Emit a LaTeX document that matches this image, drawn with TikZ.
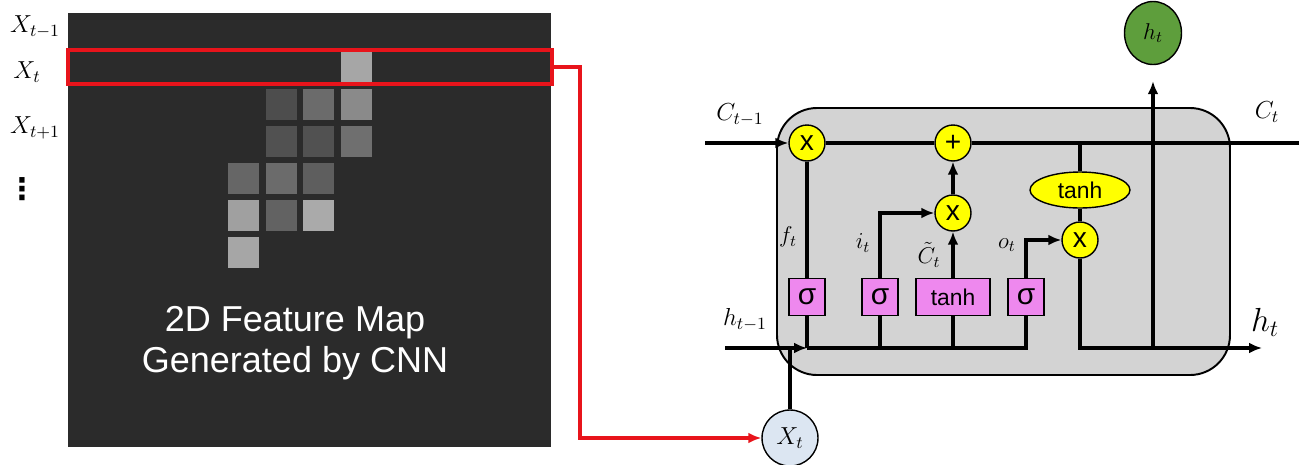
\RequirePackage{fix-cm}
\documentclass[tikz,border=0pt]{standalone}
\usepackage{fontspec}
\setsansfont{Liberation Sans}
\newfontfamily\dotsfont{DejaVu Sans}
\usetikzlibrary{arrows.meta,shapes.geometric,positioning}
\definecolor{mapdark}{HTML}{2B2B2B}
\definecolor{gatepink}{HTML}{EE88EE}
\definecolor{opyellow}{HTML}{FFFF00}
\definecolor{cellgray}{HTML}{D3D3D3}
\definecolor{outgreen}{HTML}{5E9E3C}
\definecolor{inblue}{HTML}{DCE6F2}
\definecolor{linkred}{HTML}{E8141B}

\begin{document}
\begin{tikzpicture}[x=0.02cm, y=-0.02cm,
  op/.style={circle, draw, thick, fill=opyellow, inner sep=0pt, minimum size=0.72cm, font=\sffamily\fontsize{16}{16}\selectfont},
  gate/.style={draw, thick, fill=gatepink, inner sep=0pt, minimum width=0.72cm, minimum height=0.74cm, font=\sffamily\fontsize{17}{17}\selectfont},
  flow/.style={line width=2pt},
  arr/.style={-{Latex[length=2.6mm,width=2.2mm]}, line width=2pt},
  lbl/.style={font=\fontsize{14}{16}\selectfont, inner sep=1pt},
  small lbl/.style={font=\fontsize{13}{15}\selectfont, inner sep=1pt}
]
  \useasboundingbox (0,0) rectangle (1299,464);
  \fill[white] (0,0) rectangle (1299,464);

  % feature map
  \fill[mapdark] (68,13) rectangle (551,447);
  \foreach \c/\r/\v in {3/0/58, 1/1/16, 2/1/30, 3/1/45, 1/2/18, 2/2/18, 3/2/32,
                        0/3/28, 1/3/30, 2/3/24, 0/4/55, 1/4/26, 2/4/60, 0/5/58}
    \fill[white!\v!mapdark] ({228+37.5*\c},{52+37*\r}) rectangle +(31,31);
  \node[text=white, align=center, font=\sffamily\fontsize{20.5}{23}\selectfont] (maptitle) at (295,343) {2D Feature Map\\Generated by CNN};

  \node[lbl] (xprev) at (35,27) {$X_{t-1}$};
  \node[lbl] (xcur) at (27,72) {$X_t$};
  \node[lbl] (xnext) at (35,128) {$X_{t+1}$};
  \node[lbl, font=\dotsfont\fontsize{17}{19}\selectfont\bfseries] (xdots) at (22,189) {⋮};

  \node[draw=linkred, line width=2.3pt, inner sep=0pt, minimum width=9.68cm, minimum height=0.68cm] (rowsel) at (310,67) {};

  % lstm cell
  \draw[line width=1.1pt, fill=cellgray, rounded corners=0.8cm] (777,108) rectangle (1230,375);

  \node[op] (forget) at (807,143) {x};
  \node[op] (add) at (953,143) {+};
  \node[op] (input) at (953,213) {x};
  \node[op] (output) at (1080,240) {x};
  \node[ellipse, draw, thick, fill=opyellow, inner sep=0pt, minimum width=2cm, minimum height=0.72cm, font=\sffamily\fontsize{13}{13}\selectfont] (squash) at (1080,190) {tanh};

  \node[gate] (fgate) at (807,297) {σ};
  \node[gate] (igate) at (880,297) {σ};
  \node[gate, minimum width=1.48cm, font=\sffamily\fontsize{13}{13}\selectfont] (cgate) at (953,297) {tanh};
  \node[gate] (ogate) at (1026,297) {σ};

  \node[circle, draw, thick, fill=inblue, inner sep=0pt, minimum size=1.12cm, font=\fontsize{14}{16}\selectfont] (xt) at (790,438) {$X_t$};
  \node[ellipse, draw, thick, fill=outgreen, inner sep=0pt, minimum width=1.14cm, minimum height=1.26cm, font=\fontsize{13}{15}\selectfont] (ht) at (1153,33) {$h_t$};

  \coordinate (cin) at (705,143);
  \coordinate (cout) at (1299,143);
  \coordinate (tap) at (1080,143);
  \coordinate (hin) at (725,348);
  \coordinate (hjoin) at (807,348);
  \coordinate (hout) at (1262,348);
  \coordinate (split) at (1153,348);
  \coordinate (bend) at (580,67);

  \draw[arr] (cin) -- (forget);
  \draw[flow] (forget) -- (add) -- (cout);
  \draw[flow] (forget) -- (fgate);
  \draw[arr] (igate.north) |- (input.west);
  \draw[arr] (cgate) -- (input);
  \draw[arr] (input) -- (add);
  \draw[arr] (ogate.north) |- (output.west);
  \draw[flow] (tap) -- (squash) -- (output);
  \draw[arr] (output) |- (hout);
  \draw[arr, shorten >=0.32cm] (split) -- (ht);

  \draw[arr] (hin) -- (hjoin);
  \draw[flow] (hjoin) -| (ogate.south);
  \draw[flow] (fgate) -- (hjoin);
  \draw[flow] (igate.south) -- (igate.south |- hjoin);
  \draw[flow] (cgate.south) -- (cgate.south |- hjoin);
  \draw[flow] (xt) -- (xt |- hjoin);

  \draw[linkred, line width=1.8pt, -{Latex[length=2.6mm,width=2.2mm]}] (rowsel.east) -- (bend) |- (xt);

  \node[lbl] (cprev) at (740,115) {$C_{t-1}$};
  \node[lbl] (cnext) at (1267,112) {$C_t$};
  \node[lbl] (hprev) at (745,320) {$h_{t-1}$};
  \node[lbl, font=\fontsize{19}{21}\selectfont] (hnext) at (1265,322) {$h_t$};
  \node[small lbl] (flab) at (788,237) {$f_t$};
  \node[small lbl] (ilab) at (863,243) {$i_t$};
  \node[small lbl] (clab) at (929,255) {$\tilde{C}_t$};
  \node[small lbl] (olab) at (1007,245) {$o_t$};
\end{tikzpicture}
\end{document}
